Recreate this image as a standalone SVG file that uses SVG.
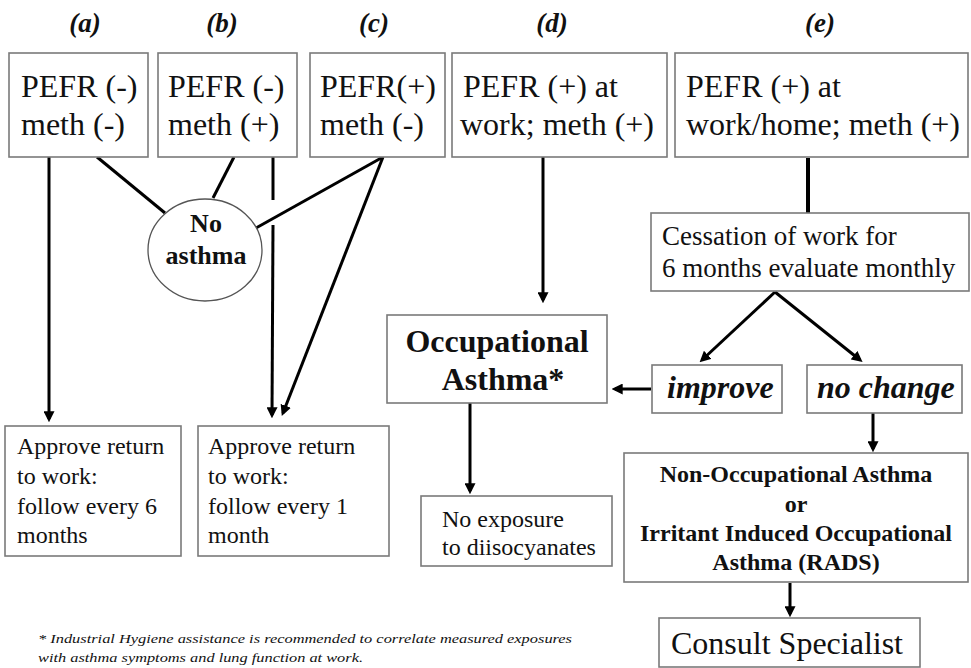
<svg xmlns="http://www.w3.org/2000/svg" width="971" height="668" viewBox="0 0 971 668" font-family="'Liberation Serif', 'Times New Roman', serif">
<defs>
<marker id="ah" viewBox="0 0 10 10" refX="7" refY="5" markerWidth="11" markerHeight="11" markerUnits="userSpaceOnUse" orient="auto">
<path d="M0,0 L10,5 L0,10 z" fill="#000"/>
</marker>
<style>
.box{fill:#fff;stroke:#7a7a7a;stroke-width:1.6}
.t{font-family:"Liberation Serif","Times New Roman",serif;fill:#111}
.lbl{font-size:27px;font-weight:bold;font-style:italic;text-anchor:middle}
.big{font-size:32px}
.mid{font-size:24px}
.b{font-weight:bold}
.bi{font-weight:bold;font-style:italic}
.c{text-anchor:middle}
.ln{stroke:#000;stroke-width:3;fill:none}
.ar{stroke:#000;stroke-width:3;fill:none;marker-end:url(#ah)}
</style>
</defs>
<rect width="971" height="668" fill="#fff"/>

<g id="labels">
<text class="t lbl" x="85" y="32">(a)</text>
<text class="t lbl" x="222" y="32">(b)</text>
<text class="t lbl" x="374" y="32">(c)</text>
<text class="t lbl" x="552" y="32">(d)</text>
<text class="t lbl" x="820" y="32">(e)</text>
</g>

<g id="connectors">
<line class="ar" x1="49" y1="157" x2="49" y2="419"/>
<line class="ln" x1="97" y1="157" x2="165" y2="213"/>
<line class="ln" x1="234" y1="157" x2="213" y2="198"/>
<line class="ln" x1="273" y1="157" x2="273" y2="200"/>
<line class="ar" x1="273" y1="225" x2="272" y2="415"/>
<line class="ln" x1="383" y1="157" x2="256" y2="228"/>
<line class="ar" x1="383" y1="157" x2="283" y2="413"/>
<line class="ar" x1="543" y1="157" x2="543" y2="300"/>
<line class="ln" x1="808" y1="158" x2="808" y2="213" style="stroke-width:4"/>
<line class="ar" x1="470" y1="403" x2="470" y2="491"/>
<line class="ar" x1="651" y1="389" x2="615" y2="389"/>
<line class="ar" x1="775" y1="292" x2="702" y2="360"/>
<line class="ar" x1="775" y1="292" x2="860" y2="360"/>
<line class="ar" x1="873" y1="413" x2="873" y2="449"/>
<line class="ar" x1="790" y1="583" x2="790" y2="614"/>
</g>

<g id="nodeA">
<rect class="box" x="9" y="53" width="139" height="104"/>
<text class="t big" x="21" y="97">PEFR (-)</text>
<text class="t big" x="21" y="135">meth (-)</text>
</g>
<g id="nodeB">
<rect class="box" x="158" y="53" width="139" height="104"/>
<text class="t big" x="168" y="97">PEFR (-)</text>
<text class="t big" x="168" y="135">meth (+)</text>
</g>
<g id="nodeC">
<rect class="box" x="310" y="53" width="135" height="104"/>
<text class="t big" x="320" y="97">PEFR(+)</text>
<text class="t big" x="320" y="135">meth (-)</text>
</g>
<g id="nodeD">
<rect class="box" x="452" y="53" width="215" height="104"/>
<text class="t big" x="463" y="97">PEFR (+) at</text>
<text class="t big" x="460" y="135">work; meth (+)</text>
</g>
<g id="nodeE">
<rect class="box" x="675" y="53" width="293" height="104"/>
<text class="t big" x="686" y="97">PEFR (+) at</text>
<text class="t big" x="686" y="135">work/home; meth (+)</text>
</g>

<g id="noAsthma">
<ellipse cx="205" cy="250" rx="57" ry="51" fill="#fff" stroke="#555" stroke-width="1.3"/>
<text class="t b c" x="206" y="232" font-size="26">No</text>
<text class="t b c" x="206" y="264" font-size="26">asthma</text>
</g>

<g id="approve6">
<rect class="box" x="5" y="426" width="176" height="130"/>
<text class="t mid" x="17" y="454">Approve return</text>
<text class="t mid" x="17" y="484">to work:</text>
<text class="t mid" x="17" y="514">follow every 6</text>
<text class="t mid" x="17" y="543">months</text>
</g>
<g id="approve1">
<rect class="box" x="198" y="426" width="191" height="130"/>
<text class="t mid" x="208" y="454">Approve return</text>
<text class="t mid" x="208" y="484">to work:</text>
<text class="t mid" x="208" y="514">follow every 1</text>
<text class="t mid" x="208" y="543">month</text>
</g>

<g id="occAsthma">
<rect class="box" x="387" y="315" width="220" height="88"/>
<text class="t b c" x="497" y="352" font-size="32">Occupational</text>
<text class="t b c" x="503" y="390" font-size="32">Asthma*</text>
</g>

<g id="noExposure">
<rect class="box" x="421" y="496" width="191" height="70"/>
<text class="t mid" x="442" y="527">No exposure</text>
<text class="t mid" x="442" y="555">to diisocyanates</text>
</g>

<g id="cessation">
<rect class="box" x="651" y="213" width="318" height="78"/>
<text class="t" x="662" y="245" font-size="27">Cessation of work for</text>
<text class="t" x="662" y="277" font-size="27">6 months evaluate monthly</text>
</g>

<g id="improve">
<rect class="box" x="652" y="365" width="130" height="48"/>
<text class="t bi" x="667" y="398" font-size="32">improve</text>
</g>
<g id="noChange">
<rect class="box" x="807" y="365" width="155" height="48"/>
<text class="t bi" x="817" y="398" font-size="32">no change</text>
</g>

<g id="nonOcc">
<rect class="box" x="624" y="453" width="344" height="129"/>
<text class="t b c" x="796" y="482" font-size="24">Non-Occupational Asthma</text>
<text class="t b c" x="796" y="512" font-size="24">or</text>
<text class="t b c" x="796" y="541" font-size="24">Irritant Induced Occupational</text>
<text class="t b c" x="796" y="570" font-size="24">Asthma (RADS)</text>
</g>

<g id="consult">
<rect class="box" x="659" y="618" width="261" height="49"/>
<text class="t" x="671" y="654" font-size="32">Consult Specialist</text>
</g>

<g id="footnote">
<text class="t" x="38" y="643" font-size="13.5" font-style="italic" textLength="534" lengthAdjust="spacingAndGlyphs">* Industrial Hygiene assistance is recommended to correlate measured exposures</text>
<text class="t" x="38" y="662" font-size="13.5" font-style="italic" textLength="325" lengthAdjust="spacingAndGlyphs">with asthma symptoms and lung function at work.</text>
</g>
</svg>
